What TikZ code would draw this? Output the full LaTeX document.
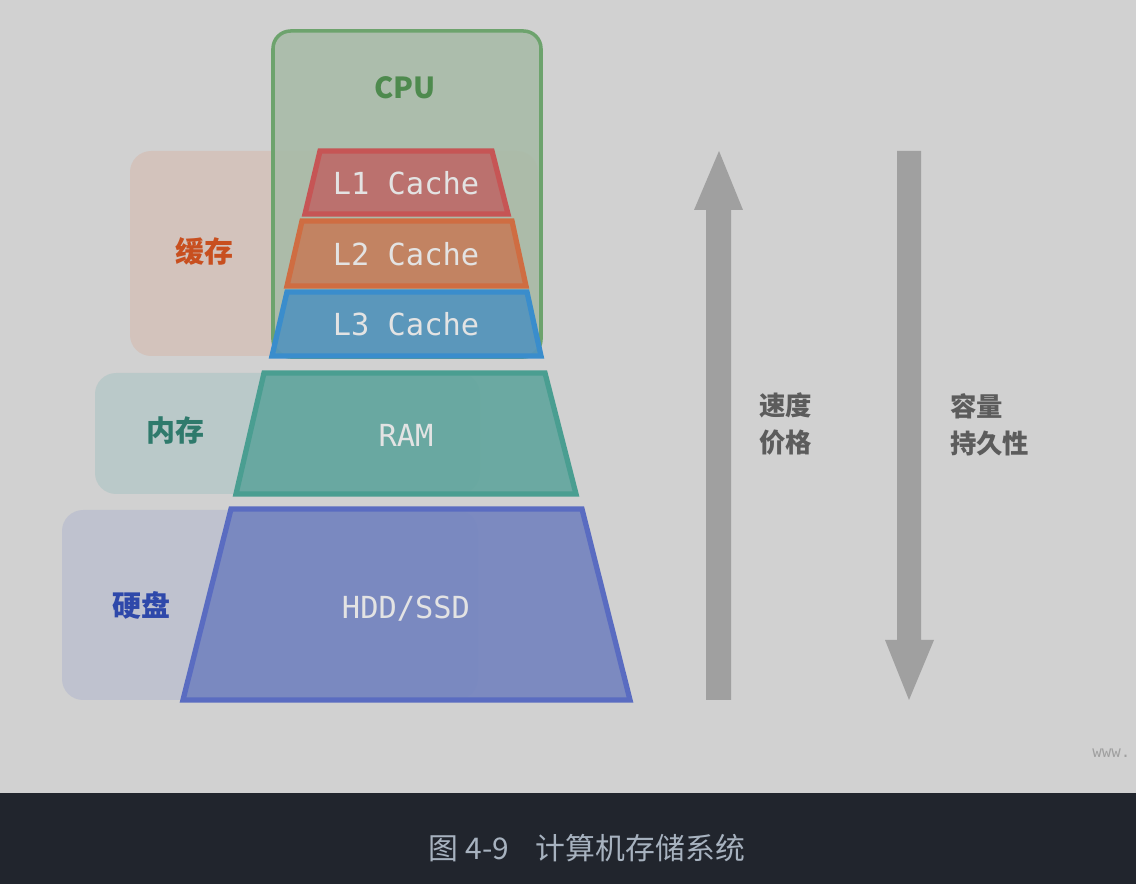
\documentclass[tikz,border=0pt]{standalone}
\usepackage{fontspec}
\setmainfont{Noto Sans CJK SC}
\setmonofont{DejaVu Sans Mono}
\usetikzlibrary{positioning}

\definecolor{bgGray}{HTML}{D1D1D1}
\definecolor{barDark}{HTML}{21252D}
\definecolor{capText}{HTML}{A7B2BF}
\definecolor{cpuFill}{HTML}{A8BBA8}
\definecolor{cpuLine}{HTML}{6DA36D}
\definecolor{cpuText}{HTML}{4E8A4E}
\definecolor{cacheBox}{HTML}{D3C3BC}
\definecolor{cacheText}{HTML}{C84F1F}
\definecolor{lOneFill}{HTML}{BD6B69}
\definecolor{lOneLine}{HTML}{C65555}
\definecolor{lTwoFill}{HTML}{C47F5D}
\definecolor{lTwoLine}{HTML}{CF6D42}
\definecolor{lThreeFill}{HTML}{5595BD}
\definecolor{lThreeLine}{HTML}{3A8DCC}
\definecolor{memBox}{HTML}{BAC9C9}
\definecolor{memText}{HTML}{2F7A6C}
\definecolor{ramFill}{HTML}{63A69E}
\definecolor{ramLine}{HTML}{4A9E91}
\definecolor{diskBox}{HTML}{BFC2CF}
\definecolor{diskText}{HTML}{2E48AA}
\definecolor{hddFill}{HTML}{7585BF}
\definecolor{hddLine}{HTML}{5A6CC1}
\definecolor{arrowGray}{HTML}{A0A0A0}
\definecolor{sideText}{HTML}{5C5C5C}
\definecolor{layerText}{HTML}{E3E3E3}

\begin{document}
\begin{tikzpicture}[
            x = 0.02cm, y = -0.02cm, % one unit per pixel, y pointing down
            group/.style = {rounded corners = 12, draw = none}, % left label boxes
            layer/.style = {line width = 3, line join = miter, fill opacity = 0.92}, % trapezoids
            layertext/.style = {text = layerText, font = \ttfamily\fontsize{17.3}{20}\selectfont},
            grouptext/.style = {font = \bfseries\fontsize{16.5}{20}\selectfont},
            sidetext/.style = {text = sideText, align = left, anchor = north west,
                font = \bfseries\fontsize{15}{21}\selectfont},
            bigarrow/.style = {fill = arrowGray, draw = none}
        ]

        \useasboundingbox (0,0) rectangle (1136,884);
        \fill[bgGray] (0,0) rectangle (1136,793);
        \fill[barDark] (0,793) rectangle (1136,884);

        % left group boxes
        \fill[group, cacheBox] (130,151) rectangle (538,356);
        \fill[group, memBox] (95,373) rectangle (480,494);
        \fill[group, diskBox] (62,510) rectangle (478,700);

        % CPU frame
        \filldraw[fill = cpuFill, draw = cpuLine, line width = 2, rounded corners = 10,
            fill opacity = 0.9] (273,31) rectangle (541,357);
        \node[text = cpuText, grouptext] (cpu) at (405,88) {CPU};

        % memory layers
        \filldraw[layer, fill = lOneFill, draw = lOneLine]
            (320,151) -- (492,151) -- (508,214) -- (305,214) -- cycle;
        \filldraw[layer, fill = lTwoFill, draw = lTwoLine]
            (302,221) -- (512,221) -- (526,286) -- (287,286) -- cycle;
        \filldraw[layer, fill = lThreeFill, draw = lThreeLine]
            (287,292) -- (527,292) -- (541,356) -- (272,356) -- cycle;
        \filldraw[layer, fill = ramFill, draw = ramLine]
            (264,373) -- (545,373) -- (576,494) -- (236,494) -- cycle;
        \filldraw[layer, fill = hddFill, draw = hddLine]
            (231,509) -- (582,509) -- (630,700) -- (183,700) -- cycle;

        \node[layertext] (l1) at (406,183) {L1 Cache};
        \node[layertext] (l2) at (406,254) {L2 Cache};
        \node[layertext] (l3) at (406,324) {L3 Cache};
        \node[layertext] (ram) at (406,435) {RAM};
        \node[layertext] (hdd) at (406,609) {HDD/SSD};

        \node[text = cacheText, grouptext] (cache) at (204,251) {缓存};
        \node[text = memText, grouptext] (mem) at (175,431) {内存};
        \node[text = diskText, grouptext] (disk) at (141,605) {硬盘};

        % block arrows
        \fill[bigarrow] (719,151) -- (743,210) -- (731,210) -- (731,700)
            -- (706,700) -- (706,210) -- (694,210) -- cycle;
        \fill[bigarrow] (897,151) -- (921,151) -- (921,640) -- (934,640)
            -- (909,700) -- (885,640) -- (897,640) -- cycle;

        \node[sidetext] (speed) at (753,387) {速度\\价格};
        \node[sidetext] (size) at (944,387) {容量\\持久性};

        % watermark and caption
        \node[text = arrowGray, anchor = west, inner sep = 0, font = \ttfamily\fontsize{9}{11}\selectfont]
            (mark) at (1092,753) {www.};
        \node[text = capText, font = \fontsize{17}{20}\selectfont]
            (caption) at (587,848) {图 4-9\hspace{0.9em}计算机存储系统};
    \end{tikzpicture}
\end{document}
